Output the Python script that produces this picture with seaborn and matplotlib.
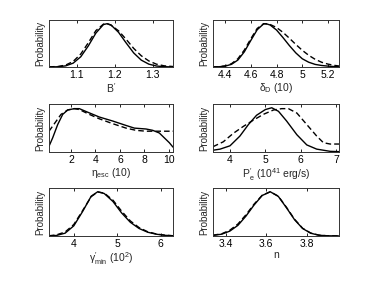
import seaborn as sns
import pandas as pd
import numpy as np
import matplotlib
matplotlib.use('Agg')
import matplotlib.pyplot as plt

# posterior curves, normalised so the peak is about 1
# panel 1: B'
b_x = [1.026, 1.05, 1.07, 1.09, 1.11, 1.13, 1.15, 1.17, 1.18, 1.19, 1.21, 1.23, 1.25, 1.27, 1.29, 1.31, 1.33, 1.354]
b_solid = [0.001, 0.006, 0.026, 0.089, 0.236, 0.487, 0.783, 0.98, 1.0, 0.97, 0.80, 0.556, 0.325, 0.159, 0.066, 0.023, 0.007, 0.002]
b_dashed = [0.003, 0.012, 0.044, 0.129, 0.30, 0.56, 0.84, 0.99, 0.996, 0.967, 0.835, 0.64, 0.43, 0.26, 0.14, 0.066, 0.028, 0.011]

# panel 2: delta_D (10)
d_x = [4.307, 4.35, 4.40, 4.45, 4.50, 4.55, 4.60, 4.65, 4.70, 4.72, 4.75, 4.80, 4.85, 4.90, 4.95, 5.00, 5.05, 5.10, 5.15, 5.20, 5.25, 5.285]
d_solid = [0.0014, 0.005, 0.019, 0.061, 0.16, 0.35, 0.61, 0.86, 0.996, 0.998, 0.97, 0.854, 0.68, 0.494, 0.325, 0.19, 0.11, 0.06, 0.035, 0.02, 0.01, 0.005]
d_dashed = [0.002, 0.006, 0.025, 0.075, 0.19, 0.39, 0.65, 0.89, 1.0, 0.995, 0.982, 0.912, 0.80, 0.664, 0.52, 0.385, 0.27, 0.177, 0.11, 0.066, 0.037, 0.024]

# panel 3: eta_esc (10)
e_x_solid = [0.20, 0.50, 0.91, 1.32, 1.73, 2.27, 2.68, 3.36, 4.32, 5.41, 6.50, 7.18, 8.13, 8.68, 9.22, 9.63, 10.04, 10.34]
e_solid = [0.13, 0.32, 0.62, 0.85, 0.95, 0.98, 0.98, 0.90, 0.79, 0.70, 0.60, 0.54, 0.52, 0.49, 0.43, 0.32, 0.21, 0.11]
e_x_dashed = [0.20, 0.64, 1.18, 1.73, 2.27, 2.68, 3.50, 4.32, 5.41, 6.50, 7.31, 8.13, 10.34]
e_dashed = [0.47, 0.64, 0.85, 0.95, 0.98, 0.96, 0.85, 0.75, 0.64, 0.54, 0.49, 0.47, 0.47]

# panel 4: P'_e (1e41 erg/s)
p_x_solid = [3.52, 3.72, 4.0, 4.28, 4.52, 4.75, 5.0, 5.18, 5.37, 5.6, 5.89, 6.17, 6.45, 6.83, 7.08]
p_solid = [0.04, 0.065, 0.14, 0.36, 0.62, 0.83, 0.96, 1.0, 0.92, 0.70, 0.39, 0.16, 0.065, 0.015, 0.008]
p_x_dashed = [3.52, 3.81, 4.09, 4.38, 4.66, 4.94, 5.23, 5.46, 5.65, 5.89, 6.17, 6.45, 6.64, 6.83, 7.08]
p_dashed = [0.12, 0.23, 0.42, 0.58, 0.72, 0.85, 0.95, 0.98, 0.98, 0.88, 0.62, 0.36, 0.21, 0.18, 0.18]

# panel 5: gamma'_min (1e2)
g_x = [3.43, 3.6, 3.8, 4.0, 4.2, 4.4, 4.55, 4.7, 4.9, 5.1, 5.3, 5.5, 5.7, 5.9, 6.1, 6.28]
g_solid = [0.002, 0.012, 0.064, 0.23, 0.55, 0.90, 1.0, 0.96, 0.78, 0.52, 0.31, 0.17, 0.085, 0.04, 0.015, 0.005]
g_dashed = [0.005, 0.025, 0.09, 0.26, 0.57, 0.89, 0.995, 0.97, 0.81, 0.56, 0.34, 0.19, 0.095, 0.045, 0.018, 0.006]

# panel 6: n
n_x = [3.337, 3.38, 3.42, 3.46, 3.50, 3.54, 3.58, 3.62, 3.66, 3.70, 3.74, 3.78, 3.82, 3.86, 3.90, 3.96]
n_solid = [0.013, 0.041, 0.11, 0.24, 0.45, 0.70, 0.915, 1.0, 0.895, 0.64, 0.37, 0.17, 0.063, 0.018, 0.005, 0.001]
n_dashed = [0.018, 0.05, 0.13, 0.27, 0.48, 0.72, 0.92, 1.0, 0.90, 0.65, 0.38, 0.175, 0.067, 0.02, 0.006, 0.001]

xlabels = [r'$\mathrm{B}^{\prime}$', r'$\delta_\mathrm{D}$ (10)', r'$\eta_\mathrm{esc}$ (10)',
           r'$\mathrm{P}^{\prime}_\mathrm{e}$ ($10^{41}$ erg/s)', r'$\gamma^{\prime}_\mathrm{min}$ ($10^2$)', 'n']
xlims = [(1.026, 1.354), (4.307, 5.285), (0.20, 10.34), (3.52, 7.08), (3.43, 6.28), (3.337, 3.96)]
xticks = [[1.1, 1.2, 1.3], [4.4, 4.6, 4.8, 5.0, 5.2], [2, 4, 6, 8, 10], [4, 5, 6, 7], [4, 5, 6], [3.4, 3.6, 3.8]]
xticklabels = [['1.1', '1.2', '1.3'], ['4.4', '4.6', '4.8', '5', '5.2'], ['2', '4', '6', '8', '10'],
               ['4', '5', '6', '7'], ['4', '5', '6'], ['3.4', '3.6', '3.8']]

curves = [
    (b_x, b_solid, b_x, b_dashed),
    (d_x, d_solid, d_x, d_dashed),
    (e_x_solid, e_solid, e_x_dashed, e_dashed),
    (p_x_solid, p_solid, p_x_dashed, p_dashed),
    (g_x, g_solid, g_x, g_dashed),
    (n_x, n_solid, n_x, n_dashed),
]

sns.set_style('white')
plt.rcParams['font.family'] = ['Liberation Sans', 'DejaVu Sans']
plt.rcParams['mathtext.fontset'] = 'custom'
plt.rcParams['mathtext.rm'] = 'Liberation Sans'
plt.rcParams['mathtext.it'] = 'Liberation Sans'
plt.rcParams['mathtext.bf'] = 'Liberation Sans:bold'

fig = plt.figure(figsize=(3.74, 2.81), dpi=100)

lefts = [49 / 374, 213 / 374]
widths = [124 / 374, 126 / 374]
tops = [20, 104, 188]
heights = [47, 48, 48]

for i, (xs, ys, xd, yd) in enumerate(curves):
    row, col = divmod(i, 2)
    bottom = 1 - (tops[row] + heights[row]) / 281
    ax = fig.add_axes([lefts[col], bottom, widths[col], heights[row] / 281])
    df = pd.concat([
        pd.DataFrame({'x': xs, 'y': ys, 'kind': 'solid'}),
        pd.DataFrame({'x': xd, 'y': yd, 'kind': 'dashed'}),
    ])
    sns.lineplot(data=df, x='x', y='y', style='kind',
                 dashes={'solid': '', 'dashed': (4, 2.2)},
                 color='black', linewidth=1.0, legend=False, ax=ax)
    ax.set_xlim(*xlims[i])
    ax.set_ylim(0, 1.085)
    ax.set_yticks([])
    ax.set_xticks(xticks[i])
    ax.set_xticklabels(xticklabels[i])
    ax.tick_params(axis='x', direction='in', top=True, bottom=True, length=2.5,
                   width=0.6, labelsize=7.5, pad=2, colors='black')
    for s in ax.spines.values():
        s.set_linewidth(0.7)
        s.set_color('#333333')
    ax.set_xlabel(xlabels[i], fontsize=7.5, labelpad=1)
    ax.set_ylabel('Probability', fontsize=7, labelpad=2.5)

fig.savefig('out.png', dpi=100)
